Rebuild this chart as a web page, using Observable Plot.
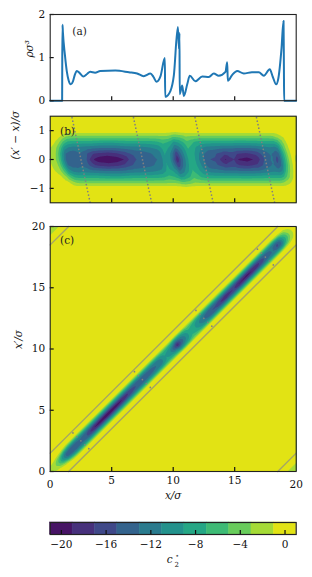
<!DOCTYPE html>
<html><head><meta charset="utf-8">
<script src="https://cdn.jsdelivr.net/npm/d3@7"></script>
<script src="https://cdn.jsdelivr.net/npm/@observablehq/plot@0.6"></script>
<style>
html,body{margin:0;padding:0;background:#fff;width:312px;height:577px;overflow:hidden}
svg{display:block}
svg text, svg tspan{font-family:"DejaVu Serif" !important}
</style></head><body><div id="chart"></div>
<script>
// Panel (a): density profile
const densityX = [0,0.97,0.98,1.0,1.03,1.2,1.35,1.5,1.68,1.85,2.0,2.17,2.4,2.7,3.0,3.25,3.65,4.07,5.3,6.4,7.07,7.6,8.15,8.4,8.64,8.97,9.32,9.35,9.78,10.05,10.38,10.47,10.51,10.53,10.73,10.87,11.14,11.35,11.8,12.36,12.9,13.3,13.7,14.25,14.39,14.44,14.8,15.2,15.74,16.4,16.96,17.37,17.85,18.1,18.37,18.55,18.8,18.97,19.0,19.02,20];
const densityY = [0,0,0.9,1.76,1.6,1.05,0.68,0.47,0.38,0.45,0.6,0.69,0.64,0.56,0.62,0.67,0.65,0.69,0.70,0.66,0.63,0.57,0.63,0.55,0.44,0.57,0.99,0.09,0.23,0.58,1.71,1.2,1.57,0.15,0.35,0.11,0.38,0.58,0.45,0.56,0.55,0.63,0.58,0.67,0.89,0.46,0.6,0.69,0.63,0.66,0.66,0.58,0.73,0.55,0.38,0.52,1.19,1.85,0.8,0,0];

// Panels (b),(c): c2 read along the centre coordinate, by |x'-x|
const centre = [-1,0,0.3,0.55,0.8,1.05,1.35,1.7,2.1,2.5,2.9,3.2,3.6,4,4.7,5.4,6,6.5,7,7.5,8,8.5,8.9,9.4,9.8,10.1,10.35,10.6,11,11.4,11.8,12.1,12.5,13,13.45,13.85,14.25,14.65,14.95,15.3,16,16.8,17.2,17.5,17.9,18.15,18.45,18.7,19,19.4,19.7,20,21];
const at00 = [0.5,-1,-2,-3.5,-6,-10,-14,-15,-15,-13.5,-14.5,-17,-19.3,-20.3,-20.8,-20.3,-19,-16.5,-15,-14.5,-14,-13.2,-12.8,-9,-11,-15,-18.7,-15,-11,-7.5,-9,-11,-13,-15,-15.2,-17.3,-19.3,-17.5,-17,-19.2,-19.8,-18.5,-16,-14.5,-13,-13,-16,-13.5,-8.5,-3,-0.5,-1.2,0.5];
const at02 = [0.5,-0.9,-1.8,-3,-5.5,-9,-13,-14,-14,-13.2,-14,-15.5,-17,-17.5,-18,-17.5,-16.5,-15.2,-14.3,-14,-13.5,-12.8,-12.3,-8.8,-10.5,-13.5,-16.5,-14,-10.5,-7.3,-8.8,-10.5,-12.5,-14.5,-14.7,-15.5,-16.5,-16,-16,-17,-17.5,-16.5,-15,-14,-13,-13,-14.5,-13,-8,-2.8,-0.5,-1,0.5];
const at04 = [0.5,-0.5,-1.2,-2,-3.8,-6.3,-10,-11.5,-12,-11.5,-12,-12.3,-12.5,-12.8,-13,-13,-12.5,-12.2,-12,-11.8,-11.5,-11,-10.5,-8.2,-9,-10.5,-13,-12,-9.5,-6.8,-8,-9.5,-11,-12,-12.2,-12.5,-12.7,-12.7,-12.7,-13,-13,-12.8,-12.3,-12,-11.5,-11.5,-11.8,-10.8,-6.5,-2,-0.2,-0.6,0.5];
const at06 = [0.5,0.1,-0.1,-0.5,-1.5,-3,-5.5,-7.5,-8,-8,-8,-8,-8,-8.2,-8.5,-8.5,-8.2,-8,-8,-8,-8,-7.8,-7.5,-6.5,-7,-8,-9.5,-9,-7.5,-5.5,-6.5,-7.5,-8,-8.2,-8.2,-8.2,-8.2,-8.2,-8.2,-8.3,-8.3,-8.2,-8,-8,-8,-8,-8,-7,-4.5,-1.3,0,-0.2,0.5];
const at08 = [0.5,0.3,0.3,0.2,0.1,-0.3,-1.5,-3,-3.5,-3.5,-3.5,-3.5,-3.5,-3.5,-3.5,-3.5,-3.5,-3.5,-3.5,-3.5,-3.5,-3.5,-3.5,-3.2,-3.3,-3.6,-4.5,-4.5,-4,-3,-3.2,-3.3,-3.5,-3.5,-3.5,-3.5,-3.5,-3.5,-3.5,-3.5,-3.5,-3.5,-3.5,-3.5,-3.5,-3.5,-3.3,-2.5,-1.5,-0.4,0.2,0.2,0.5];
const at092 = [0.5,0.4,0.4,0.4,0.3,0.2,-0.3,-0.9,-1,-1,-1,-1,-1,-1,-1,-1,-1,-1,-1,-1,-1,-1,-1,-1,-1,-1.1,-1.5,-1.7,-1.2,-1,-1,-1,-1,-1,-1,-1,-1,-1,-1,-1,-1,-1,-1,-1,-1,-1,-1,-0.8,-0.4,0.1,0.3,0.3,0.5];
const at10 = [0.5,0.5,0.5,0.5,0.4,0.3,0.3,0.3,0.3,0.3,0.3,0.3,0.3,0.3,0.3,0.3,0.3,0.3,0.3,0.3,0.3,0.3,0.3,0.3,0.3,0.3,0.2,0.1,0.3,0.3,0.3,0.3,0.3,0.3,0.3,0.3,0.3,0.3,0.3,0.3,0.3,0.3,0.3,0.3,0.3,0.3,0.3,0.3,0.3,0.3,0.4,0.5,0.5];
const at15 = centre.map(() => 0.5);
const offsets = [0, 0.2, 0.4, 0.6, 0.8, 0.92, 1.0, 1.5];
const rowsByOffset = [at00, at02, at04, at06, at08, at092, at10, at15];

// Periodic corner of panel (c): x, x', c2
const cornerX  = [0, 0, 0.7, 0, 1.5, 20, 20, 19.3, 20, 18.5];
const cornerXp = [20, 19.3, 20, 18.5, 20, 0, 0.7, 0, 1.5, 0];
const cornerV  = [-2.8, -1, -1, 0.5, 0.5, -2.8, -1, -1, 0.5, 0.5];

// Guides
const slices = [2.5, 7.5, 12.5, 17.5];
const bandEdges = [[0,1.5,18.5,20],[1.5,0,20,18.5],[0,18.5,1.5,20],[18.5,0,20,1.5]];

// Colour bands
const levels = [-21,-19,-17,-15,-13,-11,-9,-7,-5,-3,-1,1];
const bandColors = ["#471365","#47307c","#3f4889","#33638d","#297b8e","#22928c","#24a785","#3dbb75","#68cd5b","#a5db36","#e2e314"];
const cbTicks = [-20,-16,-12,-8,-4,0];

const FONT = "DejaVu Serif";
const FS = 10.5;
const INK = "#111";
const color = {type:"threshold", domain: levels.slice(1,-1), range: bandColors};

const field = [];
centre.forEach((c,i) => offsets.forEach((o,j) => {
  for (const s of (o === 0 ? [1] : [1,-1])) field.push({c, d: s*o, v: rowsByOffset[j][i]});
}));
const bPoints = field.map(p => ({x: p.c - p.d/2, y: p.d, v: p.v}));
const cPoints = field.map(p => ({x: p.c - p.d/2, y: p.c + p.d/2, v: p.v}))
  .concat(cornerX.map((x,i) => ({x, y: cornerXp[i], v: cornerV[i]})));

const fmt = d => d < 0 ? "\u2212" + (-d) : String(d);
const L = 49.7, R = 16.3;
const base = {width:312, marginLeft:L, marginRight:R, style:{fontSize:FS+"px", background:"#fff", color:INK}};
const xOpts = {domain:[0,20], ticks:[0,5,10,15,20]};

function axes(yTicks, xLabels){
  return [
    Plot.axisY(yTicks, {tickSize:-4, tickPadding:9, tickFormat:fmt, label:null, stroke:INK, strokeWidth:1.2, fontSize:FS}),
    Plot.axisX([5,10,15], {tickSize:-4, tickPadding:xLabels?9:0, tickFormat:xLabels?fmt:()=>"", label:null, stroke:INK, strokeWidth:1.2, fontSize:FS})
  ];
}
const yLabel = (t, dx) => Plot.text([t], {frameAnchor:"left", dx, rotate:-90, fontFamily:FONT, fontStyle:"italic", fontSize:FS, fill:INK, clip:false});
const panelTag = (t, x, y) => Plot.text([t], {x:()=>x, y:()=>y, textAnchor:"start", fontFamily:FONT, fontSize:FS, fill:"#222"});
const frame = Plot.frame({stroke:"#222", strokeWidth:1.1});

const a = Plot.plot({...base, height:107, marginTop:14, marginBottom:6.8, x:xOpts, y:{domain:[0,2]},
  marks:[
    Plot.line(densityX.map((x,i)=>({x,y:densityY[i]})), {x:"x", y:"y", stroke:"#1f77b4", strokeWidth:2, curve:"monotone-x", strokeLinejoin:"round"}),
    ...axes([0,1,2], false),
    yLabel("\u03C1\u03C3\u00B3", -20.7),
    panelTag("(a)", 1.8, 1.6),
    frame
  ]});

const dots = (mapX, mapY, from, to, gap) => slices.map(s => Plot.line([from,to], {x:d=>mapX(s,d), y:d=>mapY(s,d), stroke:"#808080", strokeWidth:1.7, strokeLinecap:"round", strokeDasharray:"0 "+gap}));

const b = Plot.plot({...base, height:107, marginTop:8.7, marginBottom:11.7, x:xOpts, y:{domain:[-1.5,1.5]}, color,
  marks:[
    Plot.contour(bPoints, {x:"x", y:"y", fill:"v", stroke:"none", interpolate:"barycentric", thresholds:levels.slice(0,-1), pixelSize:1, blur:0}),
    ...dots((s,d)=>s-d/2, (s,d)=>d, 1.45, -1.5, 3.6),
    ...axes([-1,0,1], false),
    yLabel("(x\u2032 \u2212 x)/\u03C3", -34.7),
    panelTag("(b)", 0.8, 0.97),
    frame
  ]});

const c = Plot.plot({...base, height:286, marginTop:12, marginBottom:29, x:xOpts, y:{domain:[0,20]}, color,
  marks:[
    Plot.contour(cPoints, {x:"x", y:"y", fill:"v", stroke:"none", interpolate:"barycentric", thresholds:levels.slice(0,-1), pixelSize:1, blur:0}),
    ...bandEdges.map(([x1,y1,x2,y2]) => Plot.line([[x1,y1],[x2,y2]], {stroke:"#8a8a8a", strokeOpacity:0.7, strokeWidth:1.4})),
    ...dots((s,d)=>s-d/2, (s,d)=>s+d/2, 1.3, -1.3, 5.6),
    ...axes([5,10,15,0,20], true),
    Plot.axisX([0,20], {tickSize:0, tickPadding:9, tickFormat:fmt, label:null, fontSize:FS}),
    yLabel("x\u2032/\u03C3", -31.7),
    Plot.text(["x/\u03C3"], {frameAnchor:"bottom", dy:27.5, fontFamily:FONT, fontStyle:"italic", fontSize:FS, fill:INK}),
    panelTag("(c)", 0.8, 18.85),
    frame
  ]});

const bands = levels.slice(0,-1).map((low,i)=>({low, high:levels[i+1]}));
const cb = Plot.plot({...base, height:77, marginTop:22, marginBottom:43, x:{domain:[-21,1]}, y:{domain:[0,1], axis:null}, color,
  marks:[
    Plot.rectY(bands, {x1:"low", x2:"high", y1:()=>0, y2:()=>1, fill:"low", stroke:"low", strokeWidth:0.5}),
    Plot.axisX(cbTicks, {tickSize:-4, tickPadding:10.5, tickFormat:fmt, label:null, stroke:INK, strokeWidth:1.2, fontSize:FS}),
    Plot.text(["c"], {frameAnchor:"bottom", dx:-3.5, dy:28.5, fontFamily:FONT, fontStyle:"italic", fontSize:FS, fill:INK}),
    Plot.text(["\u22C6"], {frameAnchor:"bottom", dx:3.5, dy:23, fontFamily:FONT, fontSize:7, fill:INK}),
    Plot.text(["2"], {frameAnchor:"bottom", dx:3.5, dy:32.5, fontFamily:FONT, fontSize:7, fill:INK}),
    Plot.frame({stroke:"#222", strokeWidth:1.2})
  ]});

const host = document.getElementById("chart");
[a,b,c,cb].forEach(p => host.appendChild(p));
</script></body></html>
